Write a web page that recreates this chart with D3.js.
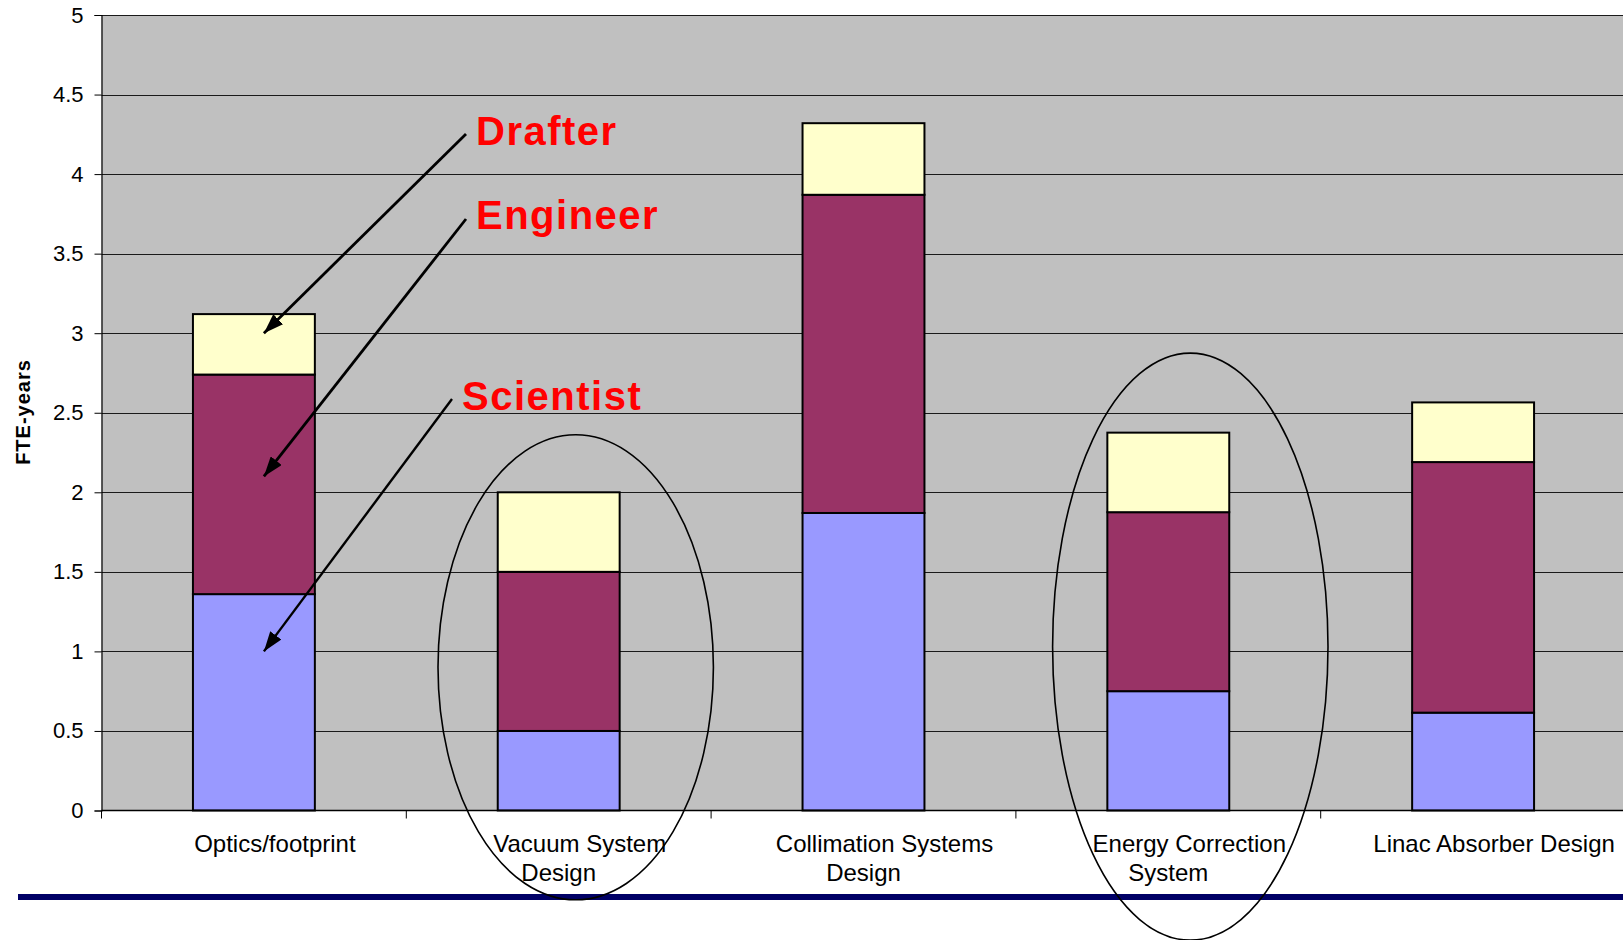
<!DOCTYPE html>
<html>
<head>
<meta charset="utf-8">
<script src="https://cdn.jsdelivr.net/npm/d3@7/dist/d3.min.js"></script>
<style>
  html, body { margin: 0; padding: 0; background: #fff; }
  svg { display: block; }
  text { font-family: "Liberation Sans", Arial, sans-serif; }
</style>
</head>
<body>
<svg id="chart" width="1623" height="940"></svg>
<script>
// Work packages (two-line category labels)
const categories = [
  "Optics/footprint",
  "Vacuum System Design",
  "Collimation Systems Design",
  "Energy Correction System",
  "Linac Absorber Design"
];
const categoryLines = [
  ["Optics/footprint"],
  ["Vacuum System", "Design"],
  ["Collimation Systems", "Design"],
  ["Energy Correction", "System"],
  ["Linac Absorber Design"]
];

// FTE-years per role
const scientist = [1.36, 0.50, 1.87, 0.75, 0.615];
const engineer  = [1.38, 1.00, 2.00, 1.125, 1.575];
const drafter   = [0.38, 0.50, 0.45, 0.50, 0.375];

const seriesNames = ["Scientist", "Engineer", "Drafter"];
const seriesColors = ["#9999FF", "#993366", "#FFFFCC"];

const yTicks = [0, 0.5, 1, 1.5, 2, 2.5, 3, 3.5, 4, 4.5, 5];
const yTickLabels = ["0", "0.5", "1", "1.5", "2", "2.5", "3", "3.5", "4", "4.5", "5"];

// Callouts pointing into the first stack, and the highlighted packages
const calloutLabels = ["Drafter", "Engineer", "Scientist"];
const calloutTargets = [3.0, 2.1, 1.0];
const highlighted = ["Vacuum System Design", "Energy Correction System"];

const svg = d3.select("#chart");
const plotLeft = 101.5, plotRight = 1625.5, plotTop = 15, plotBottom = 810.5;

const x = d3.scaleBand()
  .domain(categories)
  .range([plotLeft, plotRight])
  .paddingInner(0.6)
  .paddingOuter(0.3);

const y = d3.scaleLinear().domain([0, 5]).range([plotBottom, plotTop]);

// plot area
svg.append("rect")
  .attr("x", plotLeft).attr("y", plotTop)
  .attr("width", 1623 - plotLeft).attr("height", plotBottom - plotTop)
  .attr("fill", "#C0C0C0");

// gridlines
svg.append("g")
  .selectAll("line")
  .data(yTicks.filter(t => t > 0))
  .join("line")
  .attr("x1", plotLeft).attr("x2", 1623)
  .attr("y1", d => Math.round(y(d)) + 0.5).attr("y2", d => Math.round(y(d)) + 0.5)
  .attr("stroke", "#1a1a1a").attr("stroke-width", 1);

// stacked bars
const table = categories.map((c, i) => ({
  category: c, Scientist: scientist[i], Engineer: engineer[i], Drafter: drafter[i]
}));
const stacked = d3.stack().keys(seriesNames)(table);

svg.append("g")
  .selectAll("g")
  .data(stacked)
  .join("g")
  .attr("fill", (d, i) => seriesColors[i])
  .selectAll("rect")
  .data(d => d)
  .join("rect")
  .attr("x", d => x(d.data.category))
  .attr("width", x.bandwidth())
  .attr("y", d => y(d[1]))
  .attr("height", d => y(d[0]) - y(d[1]))
  .attr("stroke", "#000")
  .attr("stroke-width", 2);

// y axis
const yAxis = d3.axisLeft(y)
  .tickValues(yTicks)
  .tickFormat((d, i) => yTickLabels[i])
  .tickSize(7)
  .tickPadding(11);
const yg = svg.append("g")
  .attr("transform", `translate(${plotLeft},0)`)
  .call(yAxis);
yg.select(".domain").attr("stroke", "#000").attr("stroke-width", 1.2);
yg.selectAll(".tick line").attr("stroke", "#000");
yg.selectAll(".tick text")
  .attr("font-size", 22)
  .attr("fill", "#000");

// x axis baseline and band separators
const step = x.step();
const boundaries = d3.range(categories.length + 1).map(i => plotLeft + i * step);
svg.append("line")
  .attr("x1", plotLeft).attr("x2", 1623)
  .attr("y1", plotBottom).attr("y2", plotBottom)
  .attr("stroke", "#000").attr("stroke-width", 1.5);
svg.append("g")
  .selectAll("line")
  .data(boundaries)
  .join("line")
  .attr("x1", d => d).attr("x2", d => d)
  .attr("y1", plotBottom).attr("y2", plotBottom + 8)
  .attr("stroke", "#000").attr("stroke-width", 1);

// category labels
const xl = svg.append("g");
categories.forEach((c, i) => {
  const cx = x(c) + x.bandwidth() / 2;
  categoryLines[i].forEach((line, j) => {
    xl.append("text")
      .attr("x", cx + (j === 0 ? 21 : 0))
      .attr("y", 852 + j * 29)
      .attr("text-anchor", "middle")
      .attr("font-size", 24)
      .attr("fill", "#000")
      .text(line);
  });
});

// y axis title
svg.append("text")
  .attr("transform", "translate(30,412) rotate(-90)")
  .attr("text-anchor", "middle")
  .attr("font-size", 20)
  .attr("font-weight", "bold")
  .attr("letter-spacing", 1)
  .attr("fill", "#000")
  .text("FTE-years");

// footer rule
svg.append("rect")
  .attr("x", 18).attr("y", 894)
  .attr("width", 1623 - 18).attr("height", 6)
  .attr("fill", "#000066");

// ellipses around highlighted work packages
const ellipseSpec = [
  { cat: highlighted[0], dx: 17, cy: 0.9, rx: 137.7, ry: 232.5 },
  { cat: highlighted[1], dx: 22, cy: 1.03, rx: 137.7, ry: 293.5 }
];
svg.append("g")
  .selectAll("ellipse")
  .data(ellipseSpec)
  .join("ellipse")
  .attr("cx", d => x(d.cat) + x.bandwidth() / 2 + d.dx)
  .attr("cy", d => y(d.cy))
  .attr("rx", d => d.rx)
  .attr("ry", d => d.ry)
  .attr("fill", "none")
  .attr("stroke", "#000")
  .attr("stroke-width", 1.6);

// callout arrows
svg.append("defs").append("marker")
  .attr("id", "head")
  .attr("viewBox", "0 0 20 14")
  .attr("refX", 20).attr("refY", 7)
  .attr("markerWidth", 20).attr("markerHeight", 14)
  .attr("markerUnits", "userSpaceOnUse")
  .attr("orient", "auto")
  .append("path")
  .attr("d", "M0,0 L20,7 L0,14 Z")
  .attr("fill", "#000");

const calloutLayout = [
  { sx: 466, sy: 134, tx: 476, ty: 145, lw: 2.8 },
  { sx: 466, sy: 219, tx: 476, ty: 229, lw: 2.8 },
  { sx: 452, sy: 399, tx: 462, ty: 410, lw: 2.4 }
];
const tipX = x(categories[0]) + x.bandwidth() / 2 + 10;
calloutLabels.forEach((lab, i) => {
  const L = calloutLayout[i];
  svg.append("line")
    .attr("x1", L.sx).attr("y1", L.sy)
    .attr("x2", tipX).attr("y2", y(calloutTargets[i]))
    .attr("stroke", "#000")
    .attr("stroke-width", L.lw)
    .attr("marker-end", "url(#head)");
  svg.append("text")
    .attr("x", L.tx).attr("y", L.ty)
    .attr("font-size", 40)
    .attr("font-weight", "bold")
    .attr("letter-spacing", 1.5)
    .attr("fill", "#FF0000")
    .text(lab);
});
</script>
</body>
</html>
